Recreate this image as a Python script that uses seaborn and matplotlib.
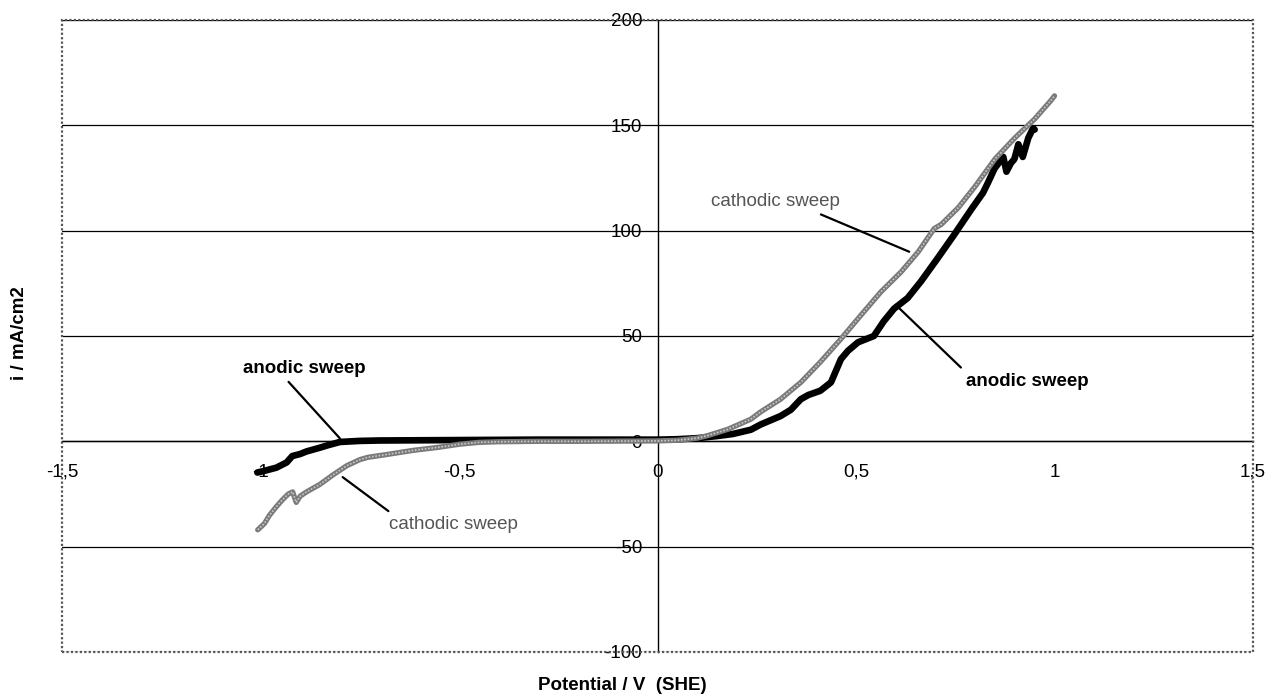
import matplotlib
matplotlib.use("Agg")
import matplotlib.pyplot as plt
from matplotlib.patches import Rectangle
import seaborn as sns
import pandas as pd

# ---- data ----
anodic_v = [-1.008, -0.99, -0.96, -0.934, -0.92, -0.90, -0.884, -0.85, -0.833, -0.80,
            -0.75, -0.70, -0.60, -0.50, -0.40, -0.30, -0.20, -0.10, 0.0, 0.05,
            0.10, 0.15, 0.19, 0.235, 0.26, 0.31, 0.336, 0.361, 0.38, 0.41,
            0.437, 0.462, 0.48, 0.505, 0.545, 0.57, 0.596, 0.63, 0.664, 0.706,
            0.747, 0.79, 0.82, 0.833, 0.849, 0.871, 0.879, 0.89, 0.899, 0.909,
            0.92, 0.934, 0.946, 0.95]
anodic_i = [-14.8, -14.0, -12.5, -10.0, -7.0, -6.0, -4.8, -3.0, -2.0, -0.3,
            0.2, 0.4, 0.5, 0.6, 0.7, 0.8, 0.8, 0.8, 0.8, 1.0,
            1.5, 2.5, 3.5, 5.5, 8.0, 12.0, 15.0, 20.0, 22.0, 24.0,
            28.0, 39.0, 43.0, 47.0, 50.0, 57.0, 63.0, 68.0, 76.0, 87.0,
            98.0, 110.0, 118.0, 123.0, 129.5, 135.0, 128.0, 132.0, 134.0, 141.0,
            135.0, 144.0, 148.6, 148.0]

cathodic_v = [-1.007, -0.99, -0.977, -0.96, -0.944, -0.93, -0.919, -0.91, -0.90, -0.884,
              -0.851, -0.818, -0.783, -0.75, -0.73, -0.68, -0.616, -0.55, -0.50, -0.45,
              -0.40, -0.30, -0.20, -0.10, 0.0, 0.05, 0.10, 0.126, 0.177, 0.235,
              0.26, 0.31, 0.361, 0.41, 0.462, 0.513, 0.563, 0.614, 0.657, 0.697,
              0.715, 0.758, 0.80, 0.85, 0.90, 0.95, 0.992, 1.0]
cathodic_i = [-42.0, -39.0, -35.0, -31.0, -27.6, -25.0, -24.0, -29.0, -26.0, -24.0,
              -20.5, -16.0, -11.6, -8.7, -7.6, -6.2, -4.3, -2.8, -1.4, -0.5,
              -0.2, 0.0, 0.0, 0.1, 0.2, 0.5, 1.5, 2.7, 5.7, 10.5,
              14.0, 20.0, 28.0, 37.6, 48.6, 60.0, 71.0, 80.5, 90.0, 101.0,
              103.0, 111.0, 121.0, 134.0, 144.0, 153.0, 162.0, 164.0]

x_ticks = [-1.5, -1.0, -0.5, 0.0, 0.5, 1.0, 1.5]
x_tick_labels = ["-1,5", "-1", "-0,5", "0", "0,5", "1", "1,5"]
y_ticks = [-100, -50, 0, 50, 100, 150, 200]
y_tick_labels = ["-100", "-50", "0", "50", "100", "150", "200"]

sns.set_theme(style="white")
plt.rcParams["font.family"] = ["Liberation Sans", "DejaVu Sans"]

fig = plt.figure(figsize=(12.73, 6.99), dpi=100)
ax = fig.add_axes([62 / 1273, 1 - 652 / 699, (1253 - 62) / 1273, (652 - 20) / 699])

df_a = pd.DataFrame({"v": anodic_v, "i": anodic_i})
df_c = pd.DataFrame({"v": cathodic_v, "i": cathodic_i})

sns.lineplot(data=df_a, x="v", y="i", ax=ax, sort=False, estimator=None,
             color="black", linewidth=4.8, zorder=3)
sns.lineplot(data=df_c, x="v", y="i", ax=ax, sort=False, estimator=None,
             color="#7a7a7a", linewidth=3.8, zorder=4)
sns.lineplot(data=df_c, x="v", y="i", ax=ax, sort=False, estimator=None,
             color="#c8c8c8", linewidth=1.2, linestyle=(0, (1, 1)), zorder=5)

ax.set_xlim(-1.5, 1.5)
ax.set_ylim(-100, 200)
ax.set_xticks(x_ticks)
ax.set_xticklabels(x_tick_labels)
ax.set_yticks(y_ticks)
ax.set_yticklabels(y_tick_labels)
ax.set_xlabel("")
ax.set_ylabel("")

# gridlines (horizontal only)
ax.yaxis.grid(True, color="black", linewidth=0.9)
ax.xaxis.grid(False)
ax.set_axisbelow(True)

# axes crossing at zero
for s in ["top", "right"]:
    ax.spines[s].set_visible(False)
ax.spines["left"].set_position(("data", 0))
ax.spines["bottom"].set_position(("data", 0))
ax.spines["left"].set_color("black")
ax.spines["bottom"].set_color("black")
ax.spines["left"].set_linewidth(1.0)
ax.spines["bottom"].set_linewidth(1.0)

ax.tick_params(axis="both", which="major", direction="out", length=5, width=1,
               color="black", labelsize=13.5, labelcolor="black")
ax.tick_params(axis="x", pad=11)
ax.tick_params(axis="y", pad=6)

# dotted gray frame of the plot area
ax.add_patch(Rectangle((0, 0), 1, 1, transform=ax.transAxes, fill=False,
                       edgecolor="#555555", linewidth=1.6, linestyle=(0, (1, 1)),
                       clip_on=False, zorder=6))

# annotations
arrow_k = dict(arrowstyle="-", color="black", linewidth=1.6, shrinkA=2, shrinkB=0)
ax.annotate("anodic sweep", xy=(-0.80, 1.4), xytext=(-0.889, 34.8),
            ha="center", va="center", fontsize=13.5, fontweight="bold", color="black",
            arrowprops=dict(arrow_k, relpos=(0.33, 0.0)))
ax.annotate("cathodic sweep", xy=(-0.793, -17.0), xytext=(-0.515, -39.5),
            ha="center", va="center", fontsize=13.5, color="#555555",
            arrowprops=dict(arrow_k, relpos=(0.05, 1.0)))
ax.annotate("cathodic sweep", xy=(0.634, 90.0), xytext=(0.298, 113.8),
            ha="center", va="center", fontsize=13.5, color="#555555",
            arrowprops=dict(arrow_k, relpos=(0.77, 0.0)))
ax.annotate("anodic sweep", xy=(0.60, 64.8), xytext=(0.932, 28.6),
            ha="center", va="center", fontsize=13.5, fontweight="bold", color="black",
            arrowprops=dict(arrow_k, relpos=(0.0, 1.0)))

fig.text(622 / 1273, 1 - 685 / 699, "Potential / V  (SHE)", ha="center", va="center",
         fontsize=13.5, fontweight="bold", color="black")
fig.text(20 / 1273, 1 - 333 / 699, "i / mA/cm2", ha="center", va="center",
         rotation=90, fontsize=13.5, fontweight="bold", color="black")

fig.savefig("out.png", dpi=100, facecolor="white")
